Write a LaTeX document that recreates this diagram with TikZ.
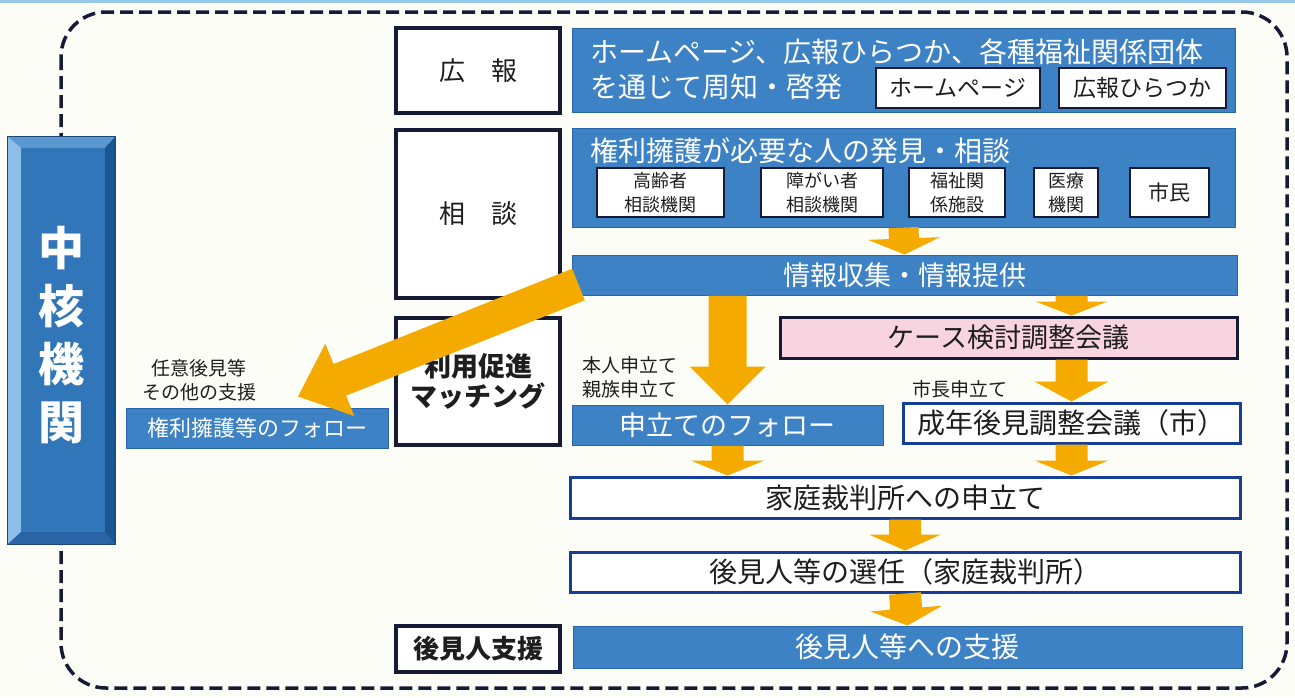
\documentclass[tikz,border=0pt]{standalone}
\usepackage{fontspec}
\setmainfont{Noto Sans CJK JP}
\usetikzlibrary{calc}
\definecolor{bg}{RGB}{253,253,248}
\definecolor{myblue}{RGB}{62,130,198}
\definecolor{bluedark}{RGB}{42,100,170}
\definecolor{wbord}{RGB}{22,62,150}
\definecolor{navy}{RGB}{22,26,52}
\definecolor{orng}{RGB}{245,170,0}
\definecolor{pinkfill}{RGB}{247,212,224}
\definecolor{txt}{RGB}{30,30,30}
\definecolor{topline}{RGB}{150,200,235}
\definecolor{chface}{RGB}{48,118,184}
\definecolor{chtop}{RGB}{92,152,208}
\definecolor{chleft}{RGB}{140,190,232}
\definecolor{chright}{RGB}{26,86,146}
\definecolor{chbot}{RGB}{40,100,166}
\definecolor{chline}{RGB}{30,70,120}
\newcommand\fs[2]{\fontsize{#1}{#2}\selectfont}
% box by corners: name, style, x1, y1, x2, y2, text
\newcommand\bx[7]{\node[#2, minimum width={(#5-#3)*1pt}, minimum height={(#6-#4)*1pt}, inner sep=0pt] (#1) at ({(#3+#5)/2},{(#4+#6)/2}) {#7};}
% block arrow: start, tip, half shaft, half head, head length
\newcommand\blockarrow[5]{%
  \path #1 coordinate (ba-s);
  \path #2 coordinate (ba-e);
  \path ($(ba-e)!#5!(ba-s)$) coordinate (ba-h);
  \fill[orng] ($(ba-s)!#3!90:(ba-e)$) -- ($(ba-h)!#3!90:(ba-e)$) -- ($(ba-h)!#4!90:(ba-e)$) -- (ba-e) -- ($(ba-h)!#4!-90:(ba-e)$) -- ($(ba-h)!#3!-90:(ba-e)$) -- ($(ba-s)!#3!-90:(ba-e)$) -- cycle;
}
\begin{document}
\begin{tikzpicture}[x=1pt,y=-1pt,
  bluebox/.style={fill=myblue, draw=bluedark, line width=1pt, text=white},
  wbox/.style={fill=white, draw=wbord, line width=3pt, text=txt},
  navybox/.style={fill=white, draw=navy, line width=3.5pt, text=txt},
  smallbox/.style={fill=white, draw=navy, line width=2pt, text=txt},
  pinkbox/.style={fill=pinkfill, draw=navy, line width=3pt, text=txt},
  lbl/.style={text=txt, inner sep=0pt},
  dashborder/.style={draw=navy, line width=3.5pt, dash pattern=on 13pt off 6pt, rounded corners=45pt}
]
\useasboundingbox (0,0) rectangle (1295,697);
\fill[bg] (0,0) rectangle (1295,697);
\fill[topline] (0,0) rectangle (1295,2.5);

% dashed frame
\draw[dashborder] (61,12) rectangle (1287,688);

% central organisation box with bevel
\bx{chukaku}{fill=chface}{8}{137}{115}{544}{}
\fill[chtop] (chukaku.north west) -- (chukaku.north east) -- ($(chukaku.north east)+(-10,11)$) -- ($(chukaku.north west)+(13,11)$) -- cycle;
\fill[chleft] (chukaku.north west) -- ($(chukaku.north west)+(13,11)$) -- ($(chukaku.south west)+(13,-12)$) -- (chukaku.south west) -- cycle;
\fill[chright] (chukaku.north east) -- ($(chukaku.north east)+(-10,11)$) -- ($(chukaku.south east)+(-10,-12)$) -- (chukaku.south east) -- cycle;
\fill[chbot] (chukaku.south west) -- ($(chukaku.south west)+(13,-12)$) -- ($(chukaku.south east)+(-10,-12)$) -- (chukaku.south east) -- cycle;
\draw[chline, line width=1pt] (chukaku.north west) rectangle (chukaku.south east);
\node[text=white, font=\bfseries\fs{46}{58}, align=center, inner sep=0pt] (chutext) at ($(chukaku.center)+(0,-5)$) {中\\核\\機\\関};

% left category boxes
\bx{kouhou}{navybox, font=\fs{26}{30}}{396}{28}{560}{113}{広　報}
\bx{soudan}{navybox, font=\fs{26}{30}}{396}{130}{560}{298}{相　談}
\bx{riyou}{navybox, font=\bfseries\fs{27}{30}, align=center}{396}{318}{560}{445}{利用促進\\マッチング}
\bx{koukenshien}{navybox, font=\bfseries\fs{26}{30}}{396}{626}{560}{672}{後見人支援}

% publicity bar
\bx{topbar}{bluebox}{572}{28}{1235}{112}{}
\node[lbl, text=white, anchor=west, font=\fs{28}{32}] (t1) at (590,52) {ホームページ、広報ひらつか、各種福祉関係団体};
\node[lbl, text=white, anchor=west, font=\fs{28}{32}] (t2) at (590,87) {を通じて周知・啓発};
\bx{hp}{smallbox, font=\fs{23}{26}}{876}{68}{1040}{108}{ホームページ}
\bx{hirat}{smallbox, font=\fs{23}{26}}{1059}{68}{1226}{108}{広報ひらつか}

% consultation bar
\bx{kenri}{bluebox}{572}{128}{1235}{227}{}
\node[lbl, text=white, anchor=west, font=\fs{28}{32}] (t3) at (590,151) {権利擁護が必要な人の発見・相談};
\bx{kourei}{smallbox, font=\fs{18}{24}, align=center}{597}{168}{724}{217}{高齢者\\相談機関}
\bx{shougai}{smallbox, font=\fs{18}{24}, align=center}{761}{168}{883}{217}{障がい者\\相談機関}
\bx{fukushi}{smallbox, font=\fs{18}{24}, align=center}{909}{168}{1005}{217}{福祉関\\係施設}
\bx{iryou}{smallbox, font=\fs{18}{24}, align=center}{1034}{168}{1098}{217}{医療\\機関}
\bx{shimin}{smallbox, font=\fs{21}{24}}{1130}{168}{1209}{217}{市民}

% flow boxes
\bx{info}{bluebox, font=\fs{27}{30}}{572}{255}{1237}{295}{情報収集・情報提供}
\bx{case}{pinkbox, font=\fs{27}{30}}{780}{317}{1237}{358}{ケース検討調整会議}
\bx{kfollow}{bluebox, font=\fs{22}{26}}{126}{408}{388}{448}{権利擁護等のフォロー}
\bx{follow}{bluebox, font=\fs{27}{30}}{572}{405}{883}{445}{申立てのフォロー}
\bx{seinen}{wbox, font=\fs{28}{30}}{903}{403}{1240}{443}{成年後見調整会議（市）}
\bx{katei}{wbox, font=\fs{28}{30}}{570}{477}{1240}{518}{家庭裁判所への申立て}
\bx{senin}{wbox, font=\fs{28}{30}}{570}{552}{1240}{592}{後見人等の選任（家庭裁判所）}
\bx{shien}{bluebox, font=\fs{28}{30}}{573}{626}{1242}{668}{後見人等への支援}

% side labels
\node[lbl, font=\fs{19}{24}, align=center] (nini) at (199,380) {任意後見等\\その他の支援};
\node[lbl, font=\fs{19}{24}, align=center] (honnin) at (630,377) {本人申立て\\親族申立て};
\node[lbl, font=\fs{19}{24}] (shichou) at (960,389) {市長申立て};

% orange arrows
\blockarrow{(kenri.south)}{(info.north)}{15pt}{36pt}{16pt}
\blockarrow{(info.south -| seinen.north)}{(case.north -| seinen.north)}{16pt}{36pt}{14pt}
\blockarrow{(info.south -| follow.north)}{(follow.north)}{19pt}{38pt}{38pt}
\blockarrow{(case.south -| seinen.north)}{(seinen.north)}{16pt}{37pt}{20pt}
\blockarrow{(follow.south)}{(katei.north -| follow.south)}{16pt}{37pt}{15pt}
\blockarrow{(seinen.south)}{(katei.north -| seinen.south)}{16pt}{37pt}{15pt}
\blockarrow{(katei.south)}{(senin.north)}{16pt}{36pt}{16pt}
\blockarrow{(senin.south)}{(shien.north)}{16pt}{36pt}{17pt}
\blockarrow{($(info.south west)+(7,-11)$)}{($(kfollow.north)+(41,-11)$)}{17pt}{39pt}{45pt}
\end{tikzpicture}
\end{document}
